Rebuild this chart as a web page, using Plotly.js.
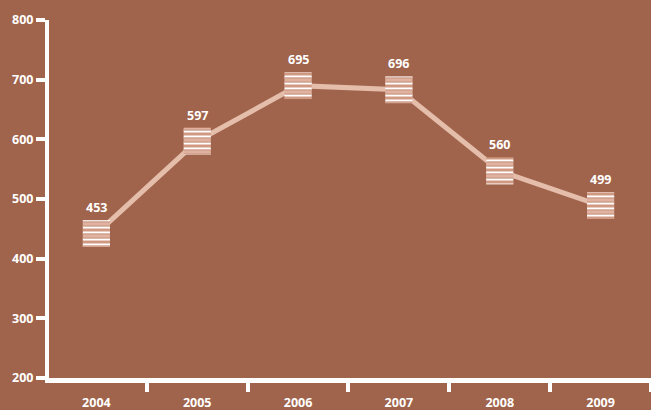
<!DOCTYPE html>
<html>
<head>
<meta charset="utf-8">
<script src="https://cdn.plot.ly/plotly-3.0.1.min.js"></script>
<style>html,body{margin:0;padding:0;background:#A0634B;}#chart{width:651px;height:410px;}</style>
</head>
<body>
<div id="chart"></div>
<script>
// Data
const years = ['2004', '2005', '2006', '2007', '2008', '2009'];
const plotted = [442, 597, 690, 683, 547, 489];   // marker positions as drawn
const labels = ['453', '597', '695', '696', '560', '499']; // printed value labels
const yTicks = [200, 300, 400, 500, 600, 700, 800];

const BG = '#A0634B';
const LINE = '#E4BDAB';
const FONT = '"Open Sans", "Noto Sans", sans-serif';

const boxH = 45;   // marker box height in value units (~27px)
const base = plotted.map(v => v - boxH / 2);
const heights = plotted.map(() => boxH);

const traces = [
  {
    type: 'scatter', mode: 'lines', x: years, y: plotted,
    line: {color: LINE, width: 5}, hoverinfo: 'skip', showlegend: false,
    xaxis: 'x', yaxis: 'y'
  },
  {
    type: 'bar', x: years, y: heights, base: base, width: 0.27,
    marker: {color: '#E0B29F', line: {width: 0},
      pattern: {shape: '-', size: 6, solidity: 0.45, fgcolor: '#FFFFFF', bgcolor: '#E0B29F', fillmode: 'replace'}},
    showlegend: false, hoverinfo: 'skip', xaxis: 'x2', yaxis: 'y2'
  },
  {
    type: 'bar', x: years, y: heights, base: base, width: 0.27,
    marker: {color: 'rgba(0,0,0,0)', line: {width: 0},
      pattern: {shape: '-', size: 4, solidity: 0.3, fgcolor: '#C4876F', bgcolor: 'rgba(0,0,0,0)', fillmode: 'replace'}},
    showlegend: false, hoverinfo: 'skip', xaxis: 'x2', yaxis: 'y2'
  }
];

const annotations = years.map((yr, i) => ({
  x: i, y: plotted[i], xref: 'x', yref: 'y', text: labels[i],
  showarrow: false, yanchor: 'middle', xanchor: 'center', yshift: 26,
  font: {family: FONT, size: 12.5, color: '#FFFFFF', weight: 700}
}));

const layout = {
  width: 651, height: 410,
  margin: {l: 49, r: 0, t: 20, b: 32, pad: 0},
  paper_bgcolor: BG, plot_bgcolor: BG,
  barmode: 'overlay',
  showlegend: false,
  font: {family: FONT, color: '#FFFFFF'},
  xaxis: {
    type: 'category', range: [-0.47, 5.5], fixedrange: true,
    showline: true, linecolor: '#FFFFFF', linewidth: 5,
    ticks: 'outside', tickson: 'boundaries', ticklen: 9, tickwidth: 4, tickcolor: '#FFFFFF',
    showgrid: false, zeroline: false,
    tickfont: {family: FONT, size: 12.5, color: '#FFFFFF', weight: 700},
    ticklabelstandoff: 9
  },
  yaxis: {
    range: [200, 800], fixedrange: true,
    tickvals: yTicks, ticktext: yTicks.map(String),
    showline: true, linecolor: '#FFFFFF', linewidth: 4,
    ticks: 'outside', ticklen: 9, tickwidth: 4, tickcolor: '#FFFFFF',
    showgrid: false, zeroline: false,
    tickfont: {family: FONT, size: 12.5, color: '#FFFFFF', weight: 700}
  },
  xaxis2: {type: 'category', overlaying: 'x', range: [-0.47, 5.5], visible: false, fixedrange: true},
  yaxis2: {overlaying: 'y', range: [200, 800], visible: false, fixedrange: true},
  annotations: annotations
};

Plotly.newPlot('chart', traces, layout, {displayModeBar: false, staticPlot: true});
</script>
</body>
</html>
